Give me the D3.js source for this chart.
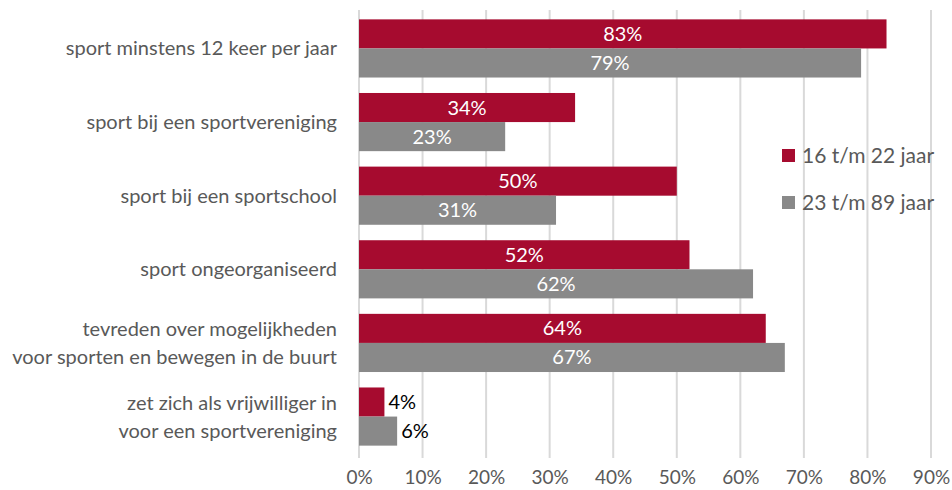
<!DOCTYPE html>
<html>
<head>
<meta charset="utf-8">
<script src="https://cdnjs.cloudflare.com/ajax/libs/d3/7.8.5/d3.min.js"></script>
<style>
body { margin: 0; background: #fff; }
text { font-family: "Lato", "Open Sans", sans-serif; }
</style>
</head>
<body>
<div id="chart"></div>
<script>
var categories = [
	["sport minstens 12 keer per jaar"],
	["sport bij een sportvereniging"],
	["sport bij een sportschool"],
	["sport ongeorganiseerd"],
	["tevreden over mogelijkheden", "voor sporten en bewegen in de buurt"],
	["zet zich als vrijwilliger in", "voor een sportvereniging"]
];
var series = ["16 t/m 22 jaar", "23 t/m 89 jaar"];
var young = [83, 34, 50, 52, 64, 4];
var old = [79, 23, 31, 62, 67, 6];
var ticks = [0, 10, 20, 30, 40, 50, 60, 70, 80, 90];
var colors = ["#a60b2f", "#898989"];

var width = 952, height = 490;
var svg = d3.select("#chart").append("svg")
	.attr("width", width)
	.attr("height", height);

var x = d3.scaleLinear().domain([0, 90]).range([359, 931]);
var y = d3.scaleBand().domain(d3.range(categories.length)).range([12, 453]).paddingInner(0.21).paddingOuter(0.1);
var inner = d3.scaleBand().domain([0, 1]).range([0, y.bandwidth()]);

// gridlines
svg.selectAll("line.grid")
	.data(ticks)
	.enter()
	.append("line")
	.attr("class", "grid")
	.attr("x1", function(d) { return x(d); })
	.attr("x2", function(d) { return x(d); })
	.attr("y1", 10)
	.attr("y2", 458)
	.style("stroke", "#d9d9d9")
	.style("stroke-width", 2);

// x axis labels
var xAxis = d3.axisBottom(x).tickValues(ticks).tickSize(0).tickPadding(0)
	.tickFormat(function(d) { return d + "%"; });
var gx = svg.append("g").attr("transform", "translate(0,469)").call(xAxis);
gx.select(".domain").remove();
gx.selectAll("text")
	.style("font-size", "19px")
	.style("fill", "#595959")
	.attr("dy", "0.8em");

var rows = categories.map(function(c, i) {
	return { cat: c, vals: [young[i], old[i]], i: i };
});

var groups = svg.selectAll("g.row")
	.data(rows)
	.enter()
	.append("g")
	.attr("class", "row")
	.attr("transform", function(d) { return "translate(0," + y(d.i) + ")"; });

groups.selectAll("rect")
	.data(function(d) { return d.vals; })
	.enter()
	.append("rect")
	.attr("x", x(0))
	.attr("y", function(d, j) { return inner(j); })
	.attr("width", function(d) { return x(d) - x(0); })
	.attr("height", inner.bandwidth())
	.style("fill", function(d, j) { return colors[j]; });

groups.selectAll("text.val")
	.data(function(d) { return d.vals; })
	.enter()
	.append("text")
	.attr("class", "val")
	.attr("x", function(d) {
		return d < 10 ? x(d) + 4 : (x(0) + x(d)) / 2;
	})
	.attr("y", function(d, j) { return inner(j) + inner.bandwidth() / 2; })
	.attr("dy", "0.35em")
	.attr("text-anchor", function(d) { return d < 10 ? "start" : "middle"; })
	.style("font-size", "20px")
	.style("fill", function(d) { return d < 10 ? "#000" : "#fff"; })
	.text(function(d) { return d + "%"; });

// category labels
groups.each(function(d) {
	var g = d3.select(this);
	var n = d.cat.length;
	var t = g.append("text")
		.attr("text-anchor", "end")
		.attr("x", 337)
		.attr("y", y.bandwidth() / 2)
		.style("font-size", "20px")
		.style("fill", "#595959");
	d.cat.forEach(function(line, k) {
		t.append("tspan")
			.attr("x", 337)
			.attr("dy", k == 0 ? (0.35 - (n - 1) * 0.7) + "em" : "1.4em")
			.text(line);
	});
});

// legend
var legend = svg.selectAll("g.legend")
	.data(series)
	.enter()
	.append("g")
	.attr("class", "legend")
	.attr("transform", function(d, i) { return "translate(782," + (156 + i * 47) + ")"; });
legend.append("rect")
	.attr("x", 0)
	.attr("y", -7)
	.attr("width", 13)
	.attr("height", 13)
	.style("fill", function(d, i) { return colors[i]; });
legend.append("text")
	.attr("x", 20)
	.attr("y", 0)
	.attr("dy", "0.35em")
	.style("font-size", "21px")
	.style("fill", "#595959")
	.text(function(d) { return d; });
</script>
</body>
</html>
